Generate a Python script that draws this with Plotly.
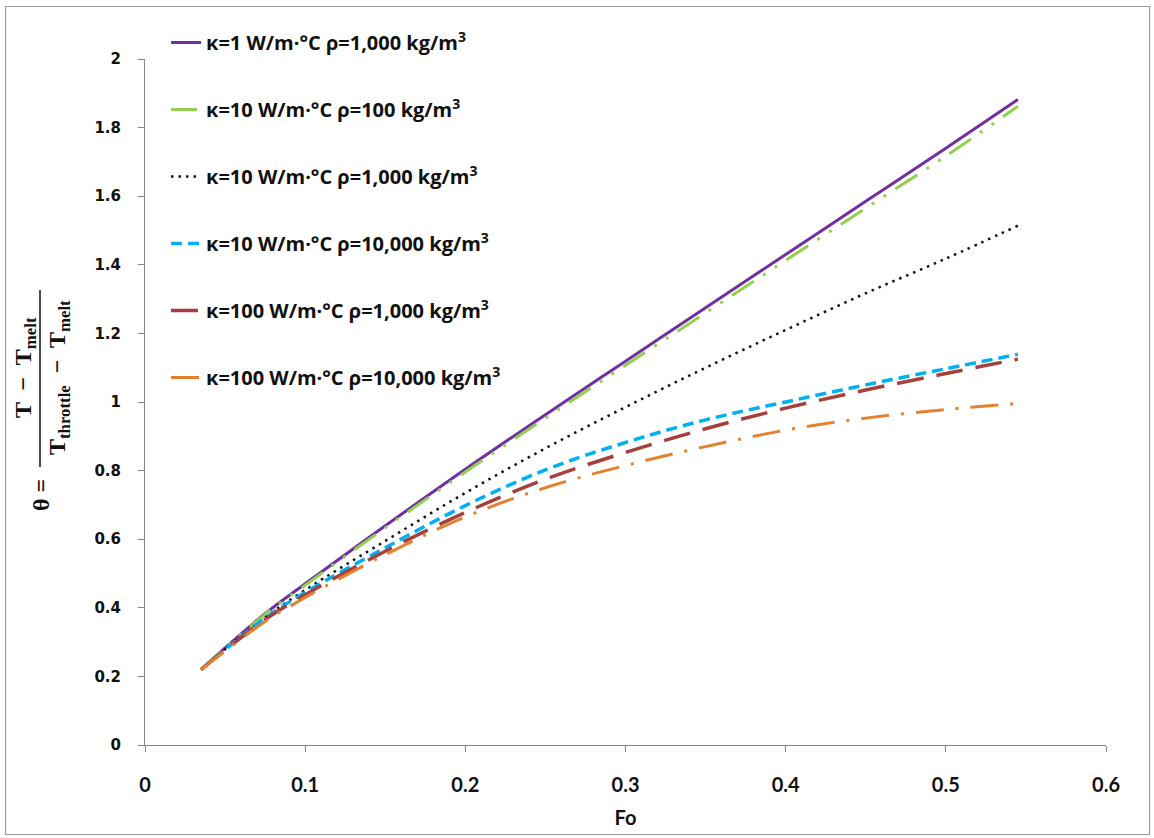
import plotly.graph_objects as go

# Fourier number samples
fo = [0.035, 0.05, 0.075, 0.1, 0.15, 0.2, 0.25, 0.3, 0.35, 0.4, 0.45, 0.5, 0.545]

# Dimensionless temperature for each conductivity / density case
theta_k1_r1000 = [0.22, 0.283, 0.383, 0.47, 0.639, 0.804, 0.963, 1.119, 1.275, 1.43, 1.585, 1.74, 1.882]
theta_k10_r100 = [0.22, 0.282, 0.381, 0.466, 0.633, 0.796, 0.953, 1.107, 1.26, 1.413, 1.565, 1.717, 1.862]
theta_k10_r1000 = [0.22, 0.279, 0.372, 0.452, 0.595, 0.735, 0.865, 0.985, 1.1, 1.21, 1.317, 1.418, 1.514]
theta_k10_r10000 = [0.22, 0.278, 0.37, 0.445, 0.575, 0.698, 0.802, 0.882, 0.948, 1.0, 1.05, 1.097, 1.139]
theta_k100_r1000 = [0.22, 0.276, 0.366, 0.438, 0.565, 0.678, 0.775, 0.853, 0.922, 0.982, 1.035, 1.083, 1.125]
theta_k100_r10000 = [0.22, 0.274, 0.36, 0.43, 0.555, 0.665, 0.75, 0.815, 0.87, 0.918, 0.953, 0.978, 0.996]

series_names = [
    "κ=1 W/m·°C ρ=1,000 kg/m<sup>3</sup>",
    "κ=10 W/m·°C ρ=100 kg/m<sup>3</sup>",
    "κ=10 W/m·°C ρ=1,000 kg/m<sup>3</sup>",
    "κ=10 W/m·°C ρ=10,000 kg/m<sup>3</sup>",
    "κ=100 W/m·°C ρ=1,000 kg/m<sup>3</sup>",
    "κ=100 W/m·°C ρ=10,000 kg/m<sup>3</sup>",
]
series_values = [theta_k1_r1000, theta_k10_r100, theta_k10_r1000,
                 theta_k10_r10000, theta_k100_r1000, theta_k100_r10000]
colors = ["#7030A0", "#92D050", "#111111", "#00B0F0", "#A5403E", "#E4812F"]
dashes = ["solid", "26px,11px,3px,11px,3px,11px", "2.5px,5px", "11px,6px",
          "27px,13px", "28px,12px,3px,12px"]
widths = [3, 3, 2.5, 3.5, 3.5, 3]

fig = go.Figure()
for i, (name, vals) in enumerate(zip(series_names, series_values)):
    fig.add_trace(go.Scatter(
        x=fo, y=vals, mode="lines", name=name, legendgroup=f"g{i}",
        line=dict(color=colors[i], width=widths[i], dash=dashes[i], shape="spline"),
    ))

W, H = 1154, 838
L, R, T, B = 145, 48, 59, 93
pw, ph = W - L - R, H - T - B


def px_x(p):
    return (p - L) / pw


def px_y(p):
    return (H - B - p) / ph


axis_col = "#878787"
fig.update_layout(
    width=W, height=H,
    margin=dict(l=L, r=R, t=T, b=B, pad=0),
    paper_bgcolor="white", plot_bgcolor="white",
    showlegend=True,
    legend=dict(
        x=px_x(166), y=px_y(23), xanchor="left", yanchor="top",
        bgcolor="rgba(0,0,0,0)", tracegroupgap=38, traceorder="grouped",
        font=dict(family="Open Sans", size=20, color="#111111", weight="bold"),
    ),
    xaxis=dict(
        range=[0, 0.6], dtick=0.1, tick0=0, showgrid=False, zeroline=False,
        showline=True, linecolor=axis_col, linewidth=1,
        ticks="outside", ticklen=6, tickcolor=axis_col, ticklabelstandoff=16,
        tickfont=dict(family="Lato", size=20, color="#111111", weight="bold"),
        title=dict(text="Fo", standoff=15,
                   font=dict(family="Lato", size=20, color="#111111", weight="bold")),
    ),
    yaxis=dict(
        range=[0, 2], dtick=0.2, tick0=0, showgrid=False, zeroline=False,
        showline=True, linecolor=axis_col, linewidth=1,
        ticks="outside", ticklen=6, tickcolor=axis_col, ticklabelstandoff=14,
        tickfont=dict(family="DejaVu Sans", size=15, color="#111111", weight="bold"),
    ),
)

# Y-axis title drawn as a rotated fraction
serif = dict(family="Liberation Serif", size=24, color="#111111", weight="bold")
fig.add_annotation(xref="paper", yref="paper", x=px_x(25), y=px_y(368),
                   text="T  −  T<sub>melt</sub>", showarrow=False, textangle=-90,
                   font=serif, xanchor="center", yanchor="middle")
fig.add_annotation(xref="paper", yref="paper", x=px_x(59), y=px_y(378),
                   text="T<sub>throttle</sub>  −  T<sub>melt</sub>", showarrow=False, textangle=-90,
                   font=serif, xanchor="center", yanchor="middle")
fig.add_annotation(xref="paper", yref="paper", x=px_x(41), y=px_y(495),
                   text="θ =", showarrow=False, textangle=-90,
                   font=serif, xanchor="center", yanchor="middle")
fig.add_shape(type="line", xref="paper", yref="paper",
              x0=px_x(40), x1=px_x(40), y0=px_y(290), y1=px_y(467),
              line=dict(color="#111111", width=1.5))

# Outer chart frame
fig.add_shape(type="rect", xref="paper", yref="paper",
              x0=px_x(5.5), x1=px_x(1149.5), y0=px_y(834.5), y1=px_y(6.5),
              line=dict(color="#9a9a9a", width=1.2), layer="below")

fig.write_html("out.html")
